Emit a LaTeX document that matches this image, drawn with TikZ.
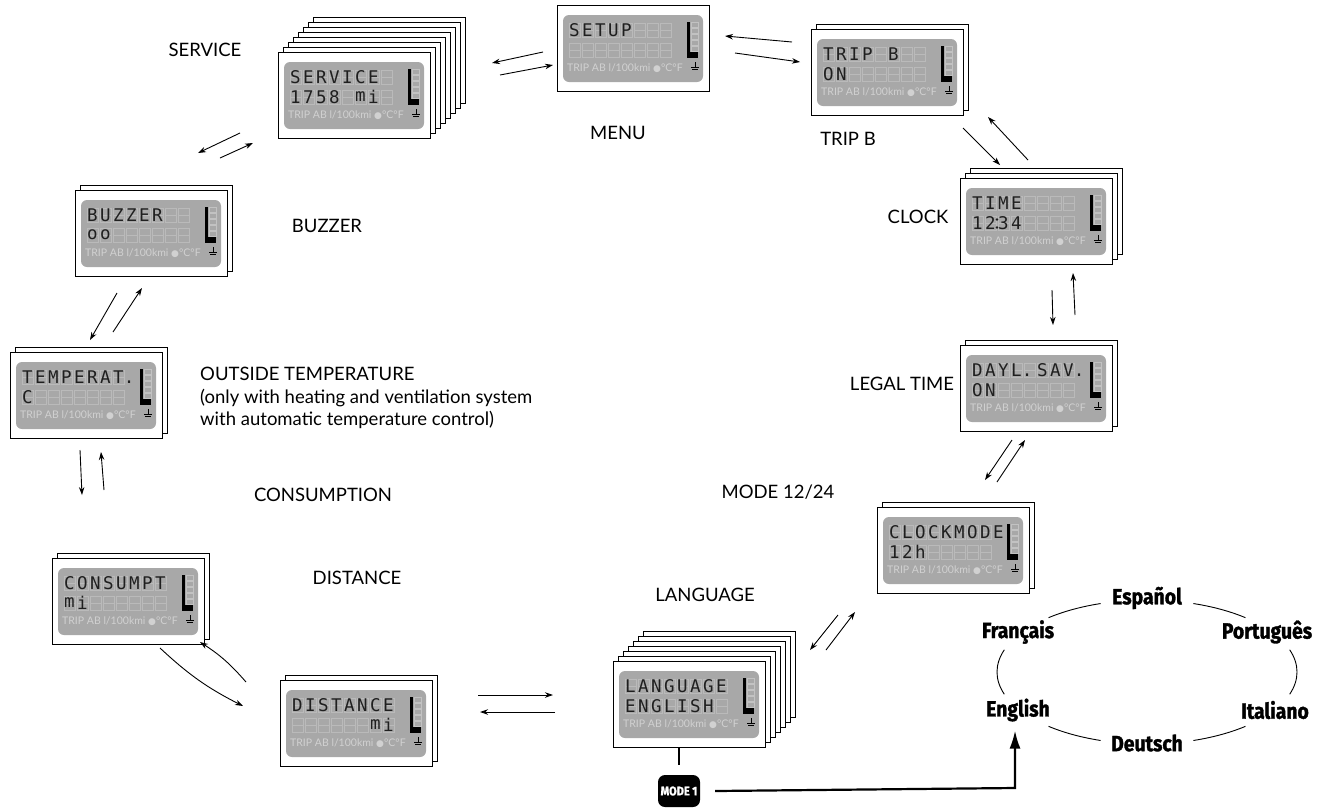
\documentclass[tikz,border=0pt]{standalone}
\usepackage{fontspec}
\setmainfont{Lato}
\newfontfamily\lcdfont{DejaVu Sans Mono}
\newfontfamily\symfont{DejaVu Sans}
\newfontfamily\langfont{Fira Sans}[FakeStretch=0.88, BoldFeatures={FakeBold=1.4}]
\usetikzlibrary{arrows.meta}

%% one display: name, x, y (top left of front sheet), back sheets, row 1, row 2
\newcommand{\panel}[6]{%
  \ifnum#4>0
    \foreach \k in {#4,...,1}
      \draw[sheet] ({#2+5*\k},{#3-5*\k}) rectangle ++(152,86);
  \fi
  \node[frame] (#1) at ({#2+76},{#3+43}) {};
  \fill[lcd] ({#2+6},{#3+10}) rectangle ++(140,67);
  \foreach \i in {0,...,7} {
    \draw[cell] ({#2+12+13*\i},{#3+18}) rectangle ++(11,14);
    \draw[cell] ({#2+12+13*\i},{#3+25}) -- ++(11,0);
    \draw[cell] ({#2+12+13*\i},{#3+38}) rectangle ++(11,14);
    \draw[cell] ({#2+12+13*\i},{#3+45}) -- ++(11,0);
  }
  \foreach \c [count=\i] in {#5}
    \node[lcdchar] (#1-a\i) at ({#2+17.5+13*(\i-1)},{#3+25}) {\c};
  \foreach \c [count=\i] in {#6}
    \node[lcdchar] (#1-b\i) at ({#2+17.5+13*(\i-1)},{#3+45}) {\c};
  %% gauge
  \fill ({#2+130},{#3+17}) rectangle ++(2.6,36);
  \foreach \j in {0,...,4}
    \draw[gbox] ({#2+134},{#3+17+6*\j}) rectangle ++(7,5);
  \fill ({#2+132},{#3+47}) rectangle ++(9,6);
  %% bottom row
  \node[lcdlbl, anchor=west] (#1-lbl) at ({#2+10},{#3+63})
    {TRIP AB l/100kmi {\symfont\fontsize{9}{9}\selectfont ●}°C°F};
  \draw[line width=0.6pt] ({#2+138},{#3+57}) -- ++(0,5)
    ({#2+134},{#3+62}) -- ++(8,0) ({#2+135},{#3+64.5}) -- ++(6,0);
}

\begin{document}
\begin{tikzpicture}[x=1pt, y=-1pt, >={Stealth[length=8pt,width=5.5pt]},
    sheet/.style={draw, fill=white, line width=0.9pt},
    frame/.style={draw, fill=white, line width=0.9pt, minimum width=152pt,
                  minimum height=86pt, inner sep=0pt},
    lcd/.style={fill=black!34, rounded corners=6pt},
    cell/.style={draw=black!27, line width=0.5pt},
    gbox/.style={draw=black!24, line width=0.5pt},
    lcdchar/.style={font=\lcdfont\fontsize{17.5}{17}\selectfont, text=black!88, inner sep=0pt},
    lcdlbl/.style={font=\fontsize{10.5}{11}\selectfont, text=black!18, inner sep=0pt},
    lbl/.style={font=\fontsize{18.5}{22.5}\selectfont, inner sep=0pt},
    lang/.style={font=\langfont\bfseries\fontsize{22}{22}\selectfont, inner sep=0pt},
    pair/.style={->, line width=0.9pt},
    ring/.style={line width=0.9pt},
    modebtn/.style={fill=black, rounded corners=7pt, minimum width=42pt, minimum height=32pt,
                    text=white, font=\langfont\bfseries\fontsize{12.5}{12}\selectfont, inner sep=0pt},
    modeline/.style={line width=2.2pt}]
\useasboundingbox (0,0) rectangle (1322,807);

%% displays round the menu
\panel{service}{278}{52}{7}{S,E,R,V,I,C,E}{1,7,5,8, ,m,i}
\panel{setup}{557}{5}{0}{S,E,T,U,P}{ }
\panel{tripb}{811}{29}{1}{T,R,I,P, ,B}{O,N}
\panel{clock}{960}{178}{2}{T,I,M,E}{1,2,3,4}
%% clock colon
\fill[black!88] (997,219.5) circle (1.3) (997,227.5) circle (1.3);
\panel{legal}{960}{345}{1}{D,A,Y,L\rlap{.}, ,S,A,V\rlap{.}}{O,N}
\panel{mode}{877}{507}{1}{C,L,O,C,K,M,O,D,E}{1,2,h}
\panel{language}{613}{661}{6}{L,A,N,G,U,A,G,E}{E,N,G,L,I,S,H}
\panel{distance}{280}{680}{1}{D,I,S,T,A,N,C,E}{ , , , , , ,m,i}
\panel{consumpt}{52}{558}{1}{C,O,N,S,U,M,P,T}{m,i}
\panel{temperat}{10}{352}{1}{T,E,M,P,E,R,A,T\rlap{.}}{C}
\panel{buzzer}{75}{190}{1}{B,U,Z,Z,E,R}{o,o}

%% captions
\node[lbl] (serviceLbl) at (205,50) {SERVICE};
\node[lbl] (menuLbl) at (618,133) {MENU};
\node[lbl] (tripbLbl) at (848,139) {TRIP B};
\node[lbl] (clockLbl) at (918,217) {CLOCK};
\node[lbl] (buzzerLbl) at (327,226) {BUZZER};
\node[lbl, anchor=west, align=left] (temperatLbl) at (200,398)
  {OUTSIDE TEMPERATURE\\(only with heating and ventilation system\\with automatic temperature control)};
\node[lbl] (legalLbl) at (902,384) {LEGAL TIME};
\node[lbl] (consumptLbl) at (323,495) {CONSUMPTION};
\node[lbl] (modeLbl) at (778,492) {MODE 12/24};
\node[lbl] (languageLbl) at (705,595) {LANGUAGE};
\node[lbl] (distanceLbl) at (357,578) {DISTANCE};

%% arrow pairs between the displays
\coordinate (bsA) at (240,133); \coordinate (bsB) at (198,153);
\coordinate (bsC) at (220,158); \coordinate (bsD) at (253,143);
\draw[pair] (bsA) -- (bsB); \draw[pair] (bsC) -- (bsD);
\coordinate (smA) at (543,52); \coordinate (smB) at (492,63);
\coordinate (smC) at (500,75); \coordinate (smD) at (553,65);
\draw[pair] (smA) -- (smB); \draw[pair] (smC) -- (smD);
\coordinate (mtA) at (792,42); \coordinate (mtB) at (725,36);
\coordinate (mtC) at (735,53); \coordinate (mtD) at (800,62);
\draw[pair] (mtA) -- (mtB); \draw[pair] (mtC) -- (mtD);
\coordinate (tcA) at (963,128); \coordinate (tcB) at (1000,165);
\coordinate (tcC) at (1028,160); \coordinate (tcD) at (988,117);
\draw[pair] (tcA) -- (tcB); \draw[pair] (tcC) -- (tcD);
\coordinate (clA) at (1052,290); \coordinate (clB) at (1053,325);
\coordinate (clC) at (1075,315); \coordinate (clD) at (1073,273);
\draw[pair] (clA) -- (clB); \draw[pair] (clC) -- (clD);
\coordinate (lmA) at (1012,440); \coordinate (lmB) at (985,480);
\coordinate (lmC) at (997,482); \coordinate (lmD) at (1025,440);
\draw[pair] (lmA) -- (lmB); \draw[pair] (lmC) -- (lmD);
\coordinate (mlA) at (838,615); \coordinate (mlB) at (810,650);
\coordinate (mlC) at (826,650); \coordinate (mlD) at (855,612);
\draw[pair] (mlA) -- (mlB); \draw[pair] (mlC) -- (mlD);
\coordinate (ldA) at (478,695); \coordinate (ldB) at (553,695);
\coordinate (ldC) at (555,712); \coordinate (ldD) at (480,712);
\draw[pair] (ldA) -- (ldB); \draw[pair] (ldC) -- (ldD);
\coordinate (dcA) at (160,648); \coordinate (dcB) at (243,706);
\coordinate (dcC) at (246,682); \coordinate (dcD) at (200,642);
\draw[pair] (dcA) to[bend right=8] (dcB); \draw[pair] (dcC) to[bend right=8] (dcD);
\coordinate (ctA) at (80,450); \coordinate (ctB) at (82,495);
\coordinate (ctC) at (104,490); \coordinate (ctD) at (101,452);
\draw[pair] (ctA) -- (ctB); \draw[pair] (ctC) -- (ctD);
\coordinate (tbA) at (117,293); \coordinate (tbB) at (90,340);
\coordinate (tbC) at (113,332); \coordinate (tbD) at (142,288);
\draw[pair] (tbA) -- (tbB); \draw[pair] (tbC) -- (tbD);

%% language ring
\coordinate (ringc) at (1147,672);
\node[lang] (es) at (1147,598) {Español};
\node[lang] (fr) at (1018,632) {Français};
\node[lang] (pt) at (1267,632) {Português};
\node[lang] (en) at (1018,710) {English};
\node[lang] (it) at (1275,710) {Italiano};
\node[lang] (de) at (1147,743) {Deutsch};
\foreach \a/\b in {-131/-108, -72/-49, -18/18, 49/72, 108/131, 162/198}
  \draw[ring] ([shift={(\a:150 and 72)}]ringc) arc[start angle=\a, end angle=\b,
    x radius=150, y radius=72];

%% MODE 1 button
\node[modebtn] (mode1) at (679,791) {MODE 1};
\coordinate (turn) at (1015,788);
\draw[modeline, shorten >=10pt] (mode1.north |- language.south) -- (mode1.north);
\draw[modeline, -{Latex[length=18pt,width=11pt]}, shorten >=9pt]
  ([xshift=15pt]mode1.east) -- (turn) -- (turn |- en.south);
\end{tikzpicture}
\end{document}
